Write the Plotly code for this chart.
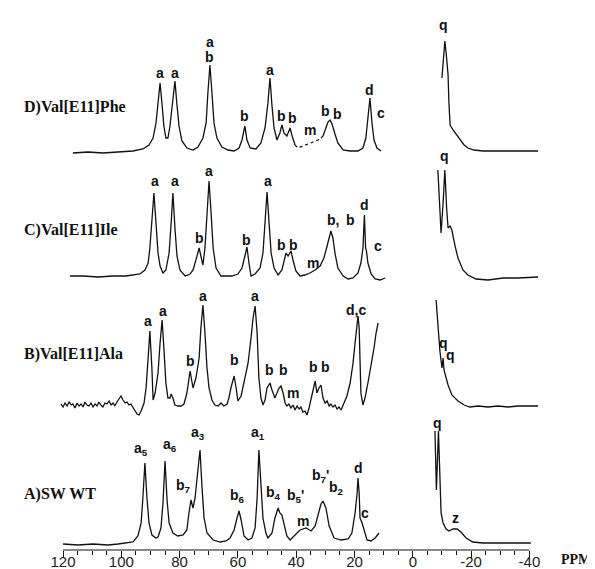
import plotly.graph_objects as go

# ---------------- axis ----------------
tick_ppm = [120, 100, 80, 60, 40, 20, 0, -20, -40]
tick_text = ["120", "100", "80", "60", "40", "20", "0", "-20", "-40"]
minor_ppm = [115, 110, 105, 95, 90, 85, 75, 70, 65, 55, 50, 45, 35, 30, 25,
             15, 10, 5, -5, -10, -15, -25, -30, -35]

# ---------------- spectra (ppm, intensity above own baseline) ----------------
# A) SW WT
a_left_ppm = [120.0, 114.9, 109.7, 104.6, 101.1, 98.4, 96.0, 94.3, 93.2, 92.6, 91.9, 91.2, 90.5, 89.5, 88.1,
              87.4, 86.4, 85.7, 85.0, 84.3, 83.6, 82.3, 80.6, 78.8, 77.5, 76.8, 76.1, 75.4, 74.7, 74.0,
              73.0, 72.3, 71.6, 70.6, 68.5, 66.1, 64.1, 62.7, 61.3, 60.3, 59.6, 58.9, 57.9, 56.5, 55.2,
              54.1, 53.4, 52.8, 52.1, 51.4, 50.4, 49.7, 48.3, 47.3, 46.2, 45.6, 44.9, 44.2, 43.2, 42.1,
              40.8, 38.7, 36.6, 34.9, 33.5, 32.5, 31.5, 30.8, 29.8, 28.7, 27.0, 24.6, 22.2, 20.9, 19.8,
              19.1, 18.8, 18.4, 18.1, 17.4, 16.7, 15.7, 14.3, 12.9, 11.6]
a_left_int = [1, 0, 1, 0, 1, 2, 3, 9, 22, 47, 82, 47, 22, 10, 7,
              8, 17, 42, 84, 45, 22, 12, 9, 10, 15, 32, 45, 37, 47, 67,
              95, 57, 27, 12, 5, 3, 4, 7, 15, 27, 34, 25, 9, 5, 7,
              17, 47, 95, 57, 27, 12, 7, 12, 27, 37, 32, 30, 22, 9, 5,
              9, 15, 17, 14, 19, 29, 41, 44, 37, 19, 7, 5, 6, 12, 32,
              52, 67, 52, 27, 22, 15, 5, 4, 7, 12]
a_right_ppm = [-7.6, -8.1, -8.8, -9.3, -9.7, -10.4, -11.4, -12.4, -13.8, -15.2, -16.5, -18.3, -20.6,
               -24.1, -29.2, -34.4, -40.5]
a_right_int = [114, 55, 114, 67, 32, 22, 16, 14, 16, 16, 13, 7, 3, 2, 2, 2, 2]

# B) Val[E11]Ala
b_left_ppm = [120.7, 120.0, 119.3, 118.6, 117.9, 117.2, 116.6, 115.9, 115.2, 114.5, 113.8, 113.1, 112.5,
              111.8, 111.1, 110.4, 109.7, 109.0, 108.3, 107.7, 107.0, 106.3, 105.6, 104.9, 104.2, 103.5,
              102.8, 102.2, 101.5, 100.8, 100.1, 99.4, 98.7, 98.0, 97.4, 96.7, 96.0, 95.3, 94.6, 93.9,
              93.2, 92.2, 91.5, 90.8, 90.2, 89.5, 89.1, 88.4, 87.4, 86.7, 86.0, 85.4, 84.7, 84.0, 83.3,
              82.9, 82.3, 81.6, 80.6, 79.5, 78.5, 77.5, 76.8, 76.4, 75.7, 75.4, 74.4, 73.3, 72.7, 72.0,
              71.3, 70.6, 69.9, 68.9, 67.9, 66.8, 65.8, 64.8, 63.7, 63.1, 62.4, 61.3, 60.6, 60.0, 58.9,
              57.9, 56.5, 55.5, 54.8, 54.1, 53.4, 52.8, 52.1, 51.4, 50.7, 50.0, 49.0, 48.3, 47.3, 46.6,
              45.9, 45.2, 44.5, 43.8, 43.2, 42.5, 41.8, 41.1, 40.4, 39.7, 39.0, 38.4, 37.7, 37.0, 36.3,
              35.6, 34.9, 34.2, 33.5, 32.9, 32.2, 31.5, 30.8, 30.1, 29.4, 28.7, 28.1, 27.4, 26.7, 26.0,
              25.3, 24.6, 23.6, 22.6, 21.5, 20.5, 19.8, 19.1, 18.8, 18.4, 18.1, 17.8, 17.1, 16.4, 15.4,
              14.3, 13.3, 12.6, 11.9]
b_left_int = [1, -2, 2, -1, 3, 0, 1, -3, 2, -1, 1, -2, 3,
              0, -1, 2, -2, 1, -1, 3, 0, -2, 2, 1, 4, 0,
              2, -1, 3, 6, 9, 5, 2, 3, 0, 1, -2, -5, -9, -10,
              -6, 2, 17, 47, 74, 37, 5, 12, 32, 62, 85, 57, 22, 7, 7,
              11, 7, 0, -1, -1, 1, 12, 27, 34, 22, 17, 27, 47, 77, 100,
              72, 37, 17, 5, 0, -1, 2, -1, 1, 7, 17, 29, 17, 4, 9,
              22, 42, 67, 87, 99, 72, 27, 7, 0, 5, 17, 22, 15, 7, 12,
              17, 19, 12, 2, -1, 1, -3, 0, -5, -1, -4, -2, -7, -6, -10,
              -3, 7, 17, 24, 12, 17, 20, 7, 2, 4, -1, 1, -2, 0, -4,
              -2, -5, 2, 9, 22, 42, 62, 82, 89, 77, 37, 12, 0, 7, 22,
              39, 57, 72, 82]
b_right_ppm = [-8.0, -8.6, -9.3, -10.0, -10.4, -10.7, -11.4, -12.1, -13.4, -15.5, -17.6, -19.6, -22.4,
               -25.8, -29.2, -32.7, -36.1, -39.5, -43.0]
b_right_int = [105, 77, 54, 37, 47, 35, 27, 20, 10, 4, 0, -2, -1, -2, -1, -2, -1, -1, -1]

# C) Val[E11]Ile
c_left_ppm = [117.6, 113.1, 108.0, 102.8, 98.4, 96.0, 93.6, 91.9, 90.8, 90.2, 89.5, 88.8, 88.1, 87.4,
              86.7, 85.7, 84.7, 83.6, 82.9, 82.3, 81.6, 80.9, 79.9, 78.1, 76.4, 75.4, 74.4, 73.7, 73.3,
              72.7, 72.0, 71.3, 70.6, 69.9, 69.2, 68.5, 67.5, 65.8, 64.1, 62.0, 60.0, 58.6, 57.6, 56.9,
              56.2, 55.5, 54.1, 52.4, 51.4, 50.7, 50.0, 49.3, 48.6, 47.6, 46.2, 44.9, 43.8, 43.5, 42.8,
              41.8, 41.1, 40.1, 38.7, 37.0, 35.3, 33.5, 31.8, 30.5, 29.4, 28.7, 28.1, 27.4, 26.7, 25.7,
              23.9, 22.2, 20.5, 18.8, 17.8, 17.1, 16.6, 16.2, 15.9, 15.4, 14.3, 12.9, 11.2, 9.5]
c_left_int = [0, 0, -1, 0, 0, 1, 2, 6, 13, 28, 58, 83, 53, 23,
              10, 3, 6, 23, 53, 83, 48, 20, 6, 0, 2, 6, 16, 26, 28,
              20, 11, 28, 68, 95, 63, 28, 8, 0, 0, 0, 2, 8, 20, 29,
              13, 0, 2, 8, 23, 53, 84, 53, 23, 8, 1, 6, 18, 23, 20,
              25, 16, 5, 0, 1, 3, 6, 10, 18, 30, 40, 45, 38, 23, 8,
              0, -3, -2, 3, 13, 28, 61, 28, 25, 13, 2, -3, -4, -2]
c_right_ppm = [-8.6, -9.2, -9.7, -10.4, -11.0, -11.6, -12.1, -12.8, -13.4, -14.5, -15.5, -17.2, -18.9,
               -21.7, -25.8, -31.0, -36.1, -43.0]
c_right_int = [106, 68, 43, 73, 106, 68, 48, 50, 46, 30, 18, 6, 1, -3, -4, -2, -2, -1]

# D) Val[E11]Phe
d_left_ppm = [116.6, 111.4, 106.3, 101.1, 96.0, 92.6, 90.5, 89.1, 88.1, 87.4, 86.7, 86.0, 85.4, 84.7,
              84.0, 83.3, 82.6, 81.6, 80.9, 80.2, 79.2, 77.5, 75.4, 73.7, 72.0, 70.9, 70.3, 69.6, 68.9,
              68.2, 67.2, 65.5, 63.4, 61.3, 59.6, 58.6, 57.6, 56.9, 55.8, 53.8, 52.1, 50.7, 49.7, 49.0,
              48.3, 47.6, 46.6, 45.6, 44.9, 44.2, 43.2, 42.1, 41.4, 40.4]
d_left_int = [-1, 0, -1, 0, 1, 3, 7, 14, 29, 49, 69, 47, 26, 14,
              14, 26, 46, 71, 47, 26, 11, 4, 2, 5, 14, 29, 59, 87, 59,
              29, 14, 5, 2, 1, 4, 12, 26, 12, 4, 3, 9, 24, 49, 74,
              46, 24, 12, 19, 27, 19, 16, 24, 16, 7]
d_m_ppm = [40.4, 39.4, 36.0, 32.5, 31.5]
d_m_int = [7, 4, 8, 12, 14]
d_tail_ppm = [31.5, 30.8, 29.8, 29.1, 28.4, 27.7, 26.7, 25.7, 23.9, 21.5, 18.8, 17.1, 16.1, 15.4, 14.7,
              14.0, 13.3, 12.3, 10.9]
d_tail_int = [14, 16, 24, 30, 32, 28, 18, 9, 2, 1, 1, 4, 14, 34, 54, 29, 12, 4, 1]
d_right_ppm = [-10.0, -10.5, -11.0, -11.6, -12.1, -12.4, -12.8, -13.8, -14.8, -16.2, -17.6, -18.9, -21.0,
               -24.1, -29.2, -36.1, -43.0]
d_right_int = [74, 94, 111, 94, 77, 49, 27, 22, 18, 12, 7, 4, 2, 1, 1, 1, 1]

# vertical stacking offsets of each spectrum
offsets = {"A": 32, "B": 172, "C": 301, "D": 425}

# ---------------- peak labels (ppm, height, text) ----------------
labels_D = [(86.7, 504, "a"), (81.6, 504, "a"), (69.6, 535, "a"), (69.6, 520, "b"), (57.6, 461, "b"),
            (49.0, 507, "a"), (45.2, 461, "b"), (41.1, 459, "b"), (35.3, 447, "m"), (29.8, 466, "b"),
            (26.0, 463, "b"), (14.7, 487, "d"), (10.9, 464, "c"), (-10.7, 552, "q")]
labels_C = [(88.4, 396, "a"), (81.6, 396, "a"), (73.3, 339, "b"), (69.9, 406, "a"), (56.9, 337, "b"),
            (49.7, 396, "a"), (45.2, 332, "b"), (40.8, 332, "b"), (34.2, 314, "m"), (27.4, 357, "b,"),
            (21.5, 357, "b"), (16.4, 372, "d"), (11.9, 331, "c"), (-11.0, 421, "q")]
labels_B = [(90.8, 256, "a"), (85.7, 266, "a"), (76.4, 216, "b"), (72.0, 281, "a"), (61.0, 217, "b"),
            (54.1, 281, "a"), (49.0, 207, "b"), (44.5, 207, "b"), (41.1, 184, "m"), (33.9, 210, "b"),
            (30.1, 210, "b"), (19.5, 267, "d,c"), (-10.4, 234, "q"), (-13.1, 222, "q")]
labels_A = [(93.2, 128, "a<sub>5</sub>"), (83.3, 132, "a<sub>6</sub>"), (78.8, 91, "b<sub>7</sub>"),
            (73.7, 144, "a<sub>3</sub>"), (60.0, 81, "b<sub>6</sub>"), (53.1, 144, "a<sub>1</sub>"),
            (47.9, 84, "b<sub>4</sub>"), (40.4, 81, "b<sub>5</sub>'"), (37.7, 56, "m"),
            (31.8, 101, "b<sub>7</sub>'"), (26.3, 89, "b<sub>2</sub>"), (18.8, 109, "d"), (16.4, 64, "c"),
            (-8.6, 154, "q"), (-14.5, 59, "z")]

names = [("D)Val[E11]Phe", 0.826), ("C)Val[E11]Ile", 0.610), ("B)Val[E11]Ala", 0.392), ("A)SW WT", 0.146)]

# ---------------- figure ----------------
fig = go.Figure()
line = dict(color="#111111", width=1.3)


def add(xs, ys, off, dash=None):
    ln = dict(line)
    if dash:
        ln["dash"] = dash
    fig.add_trace(go.Scatter(x=xs, y=[v + off for v in ys], mode="lines", line=ln,
                             hoverinfo="skip", showlegend=False))


add(a_left_ppm, a_left_int, offsets["A"])
add(a_right_ppm, a_right_int, offsets["A"])
add(b_left_ppm, b_left_int, offsets["B"])
add(b_right_ppm, b_right_int, offsets["B"])
add(c_left_ppm, c_left_int, offsets["C"])
add(c_right_ppm, c_right_int, offsets["C"])
add(d_left_ppm, d_left_int, offsets["D"])
add(d_m_ppm, d_m_int, offsets["D"], dash="dot")
add(d_tail_ppm, d_tail_int, offsets["D"])
add(d_right_ppm, d_right_int, offsets["D"])

lab_font = dict(family="Liberation Sans, Arial, sans-serif", size=14, color="#111111")
for lst in (labels_D, labels_C, labels_B, labels_A):
    for x, y, t in lst:
        fig.add_annotation(x=x, y=y, xref="x", yref="y", text="<b>" + t + "</b>", showarrow=False,
                           font=lab_font, xanchor="center", yanchor="middle", borderpad=0)

for t, yp in names:
    fig.add_annotation(x=14 / 595, y=yp, xref="paper", yref="paper", text="<b>" + t + "</b>",
                       showarrow=False, xanchor="left", yanchor="middle",
                       font=dict(family="Liberation Serif, Times New Roman, serif", size=16, color="#111111"))

fig.add_annotation(x=568 / 595, y=0.03, xref="paper", yref="paper", text="<b>PPM</b>",
                   showarrow=False, xanchor="center", yanchor="middle", borderpad=0,
                   font=dict(family="Liberation Serif, Times New Roman, serif", size=14, color="#111111"))

# axis baseline from 120 to -40 ppm
fig.add_shape(type="line", x0=120, x1=-40, y0=27, y1=27, xref="x", yref="y",
              line=dict(color="#111111", width=1.2))

fig.update_layout(
    width=595, height=569, margin=dict(l=0, r=0, t=0, b=0),
    paper_bgcolor="white", plot_bgcolor="white", showlegend=False,
    xaxis=dict(range=[138.87, -65.25], anchor="free", position=27 / 569, showline=False,
               showgrid=False, zeroline=False, tickmode="array", tickvals=tick_ppm, ticktext=tick_text,
               ticks="outside", ticklen=7, tickwidth=1, tickcolor="#111111",
               tickfont=dict(family="Liberation Sans, Arial, sans-serif", size=15, color="#222222"),
               minor=dict(tickmode="array", tickvals=minor_ppm, ticks="outside", ticklen=4,
                          tickwidth=1, tickcolor="#111111", showgrid=False),
               automargin=False, ticklabelstandoff=-9),
    yaxis=dict(range=[0, 569], visible=False, showgrid=False, zeroline=False, fixedrange=True),
)

fig.write_html("out.html")
